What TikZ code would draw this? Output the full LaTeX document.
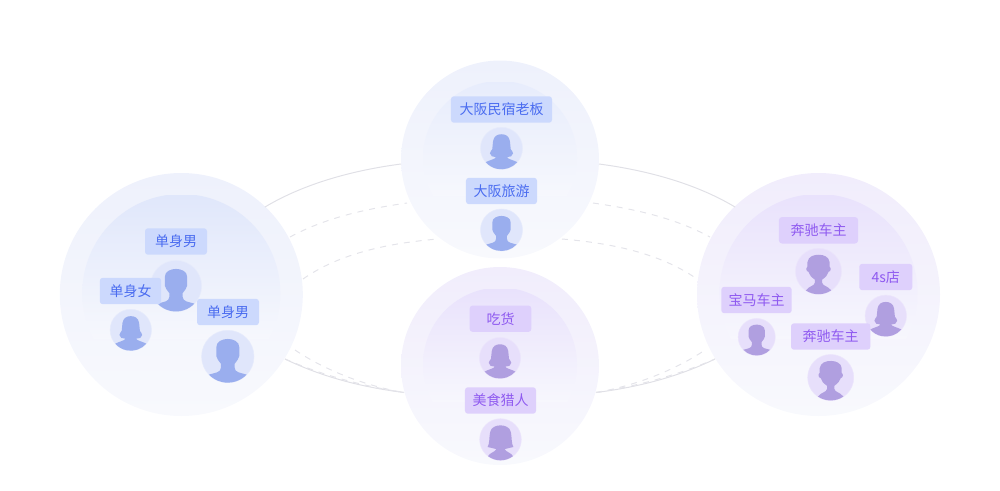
\documentclass[tikz,border=0pt]{standalone}
\usepackage{fontspec}
\setmainfont{Noto Sans CJK SC}
\usepackage{xcolor}
\usetikzlibrary{calc}
\definecolor{tagblue}{HTML}{CCD9FD}
\definecolor{txtblue}{HTML}{4A6CF0}
\definecolor{faceblue}{HTML}{E0E6FB}
\definecolor{headblue}{HTML}{9AAEEE}
\definecolor{tagpurple}{HTML}{DED0FC}
\definecolor{txtpurple}{HTML}{8F5AF0}
\definecolor{facepurple}{HTML}{E7DFFB}
\definecolor{headpurple}{HTML}{B09FE0}
\definecolor{linegrey}{HTML}{E0E0E6}
\definecolor{linedash}{HTML}{E4E4EA}
\definecolor{paleend}{HTML}{F8F9FD}
\definecolor{outerb}{HTML}{EEF1FC}
\definecolor{outerp}{HTML}{F1EDFC}
\definecolor{innerb}{HTML}{E0E7FB}
\definecolor{innerp}{HTML}{E9E2FC}
\tikzset{
  disc/.style={circle, inner sep=0pt, top color=#1, middle color=paleend!75!#1, bottom color=paleend},
  tagb/.style={fill=tagblue, text=txtblue, rounded corners=2.2, inner sep=0pt, minimum height=19.8, font=\fontsize{10.5}{10.5}\selectfont},
  tagp/.style={fill=tagpurple, text=txtpurple, rounded corners=2.2, inner sep=0pt, minimum height=19.8, font=\fontsize{10.5}{10.5}\selectfont},
  faceb/.style={circle, inner sep=0pt, fill=faceblue, draw=faceblue!80!white, line width=.4},
  facep/.style={circle, inner sep=0pt, fill=facepurple, draw=facepurple!80!white, line width=.4},
  solidline/.style={draw=linegrey, line width=.75},
  dashline/.style={draw=linedash, line width=.75, dash pattern=on 4.5 off 4.5},
  manA/.pic={
    \fill (-.72,.69) .. controls (-.5,.62) and (-.26,.62) .. (-.26,.42) -- (-.26,.28)
      .. controls (-.36,.15) and (-.42,.08) .. (-.44,-.02) -- (-.44,-.35)
      .. controls (-.44,-.58) and (-.2,-.67) .. (0,-.67)
      .. controls (.2,-.67) and (.44,-.58) .. (.44,-.35) -- (.44,-.02)
      .. controls (.42,.08) and (.36,.15) .. (.26,.28) -- (.26,.42)
      .. controls (.26,.62) and (.5,.62) .. (.72,.69) arc (43.8:136.2:1) -- cycle;
  },
  manB/.pic={
    \fill (-.55,.83) .. controls (-.4,.62) and (-.2,.66) .. (-.16,.5) -- (-.16,.36)
      .. controls (-.32,.25) and (-.4,.15) .. (-.44,.02) .. controls (-.54,.02) and (-.56,-.16) .. (-.48,-.2)
      -- (-.48,-.4) .. controls (-.44,-.66) and (-.2,-.72) .. (.02,-.72)
      .. controls (.24,-.72) and (.46,-.62) .. (.48,-.4) -- (.48,-.2)
      .. controls (.56,-.16) and (.54,.02) .. (.44,.02) .. controls (.4,.15) and (.32,.25) .. (.16,.36)
      -- (.16,.5) .. controls (.2,.66) and (.4,.62) .. (.55,.83) arc (56.5:123.5:1) -- cycle;
  },
  womanA/.pic={
    \fill (-.75,.66) .. controls (-.55,.55) and (-.3,.52) .. (-.26,.42) .. controls (-.4,.42) and (-.55,.38) .. (-.55,.24)
      .. controls (-.55,.14) and (-.47,.12) .. (-.44,.04) -- (-.4,-.35)
      .. controls (-.36,-.58) and (-.2,-.67) .. (0,-.67)
      .. controls (.2,-.67) and (.36,-.58) .. (.4,-.35) -- (.44,.04)
      .. controls (.47,.12) and (.55,.14) .. (.55,.24) .. controls (.55,.38) and (.4,.42) .. (.26,.42)
      .. controls (.3,.52) and (.55,.55) .. (.75,.66) arc (41.3:138.7:1) -- cycle;
  },
  womanB/.pic={
    \fill (-.6,.8) .. controls (-.5,.62) and (-.28,.62) .. (-.2,.46) -- (-.62,.36)
      .. controls (-.52,.2) and (-.55,-.1) .. (-.5,-.35) .. controls (-.46,-.6) and (-.2,-.68) .. (0,-.68)
      .. controls (.2,-.68) and (.46,-.6) .. (.5,-.35) .. controls (.55,-.1) and (.52,.2) .. (.62,.36)
      -- (.2,.46) .. controls (.28,.62) and (.5,.62) .. (.6,.8) arc (53.1:126.9:1) -- cycle;
  },
}
% one round group: outer disc, then the inner disc fading away downwards
\newcommand{\bubble}[6]{%
  \node[disc=#5, minimum size=#3*1.5] (#1) at (#2) {};
  \begin{scope}
    \clip (#2) ++(0,-1.5) circle (#4);
    \path[top color=#6, bottom color=paleend!82!#5] ($(#2)+(-#3,-#3+22)$) rectangle ($(#2)+(#3,#3*.36)$);
  \end{scope}
}
\begin{document}
\begin{tikzpicture}[x=.75pt, y=-.75pt]
\useasboundingbox (0,0) rectangle (1000,490);

\bubble{left}{181.3,294.5}{121.5}{99}{outerb}{innerb}
\bubble{top}{500,159.5}{99}{77}{outerb}{innerb!70!paleend}
\bubble{bottom}{500,366}{99}{77}{outerp}{innerp}
\bubble{right}{818.5,294.5}{121.5}{99}{outerp}{innerp}

% rings between the groups
\coordinate (a1) at (265,207);
\coordinate (a2) at (401,164);
\coordinate (a3) at (599,164);
\coordinate (a4) at (735,207);
\coordinate (b1) at (290,237);
\coordinate (b2) at (407,203);
\coordinate (b3) at (593,203);
\coordinate (b4) at (710,237);
\coordinate (c1) at (303,279);
\coordinate (c2) at (438,239);
\coordinate (c3) at (562,239);
\coordinate (c4) at (697,279);
\coordinate (d1) at (285,359);
\coordinate (d2) at (404,392.5);
\coordinate (d3) at (596,392.5);
\coordinate (d4) at (715,359);
\coordinate (e1) at (295,350);
\coordinate (e2) at (705,350);
\draw[solidline] (a1) .. controls (305,183) and (355,170) .. (a2);
\draw[solidline] (a3) .. controls (645,170) and (695,183) .. (a4);
\draw[dashline] (b1) .. controls (325,218) and (365,209) .. (b2);
\draw[dashline] (b3) .. controls (635,209) and (675,218) .. (b4);
\draw[dashline] (c1) .. controls (340,253) and (390,243) .. (c2);
\draw[dashline] (c3) .. controls (610,243) and (660,253) .. (c4);
\draw[solidline] (d1) .. controls (320,376) and (360,387) .. (d2);
\draw[solidline] (d3) .. controls (640,387) and (680,376) .. (d4);
\draw[dashline] (d1) .. controls (322,375) and (362,386) .. (d2);
\draw[dashline] (d3) .. controls (638,386) and (678,375) .. (d4);
\draw[dashline] (e1) .. controls (320,367) and (360,385) .. (d2);
\draw[dashline] (d3) .. controls (640,385) and (680,367) .. (e2);

% left group
\node[faceb, minimum size=38.3] (p1) at (176,286) {};
\node[faceb, minimum size=31] (p2) at (130.8,330) {};
\node[faceb, minimum size=39.3] (p3) at (227.8,356.5) {};
\pic[scale=25.5, fill=headblue] at (p1) {manA};
\pic[scale=20.7, fill=headblue] at (p2) {womanA};
\pic[scale=26.2, fill=headblue] at (p3) {manA};
\node[tagb, minimum width=46.5] (t1) at (176,241.5) {单身男};
\node[tagb, minimum width=46] (t2) at (130.5,291) {单身女};
\node[tagb, minimum width=46.5] (t3) at (228,312) {单身男};

% top group
\node[faceb, minimum size=31.5] (p4) at (501.5,148.3) {};
\node[faceb, minimum size=31.5] (p5) at (501.5,230) {};
\pic[scale=21, fill=headblue] at (p4) {womanA};
\pic[scale=21, fill=headblue] at (p5) {manA};
\node[tagb, minimum width=75.8] (t4) at (501.5,109.5) {大阪民宿老板};
\node[tagb, minimum width=53.3] (t5) at (501.5,191) {大阪旅游};

% bottom group
\node[facep, minimum size=30.8] (p6) at (500,358) {};
\node[facep, minimum size=31.2] (p7) at (500.5,439.5) {};
\pic[scale=20.5, fill=headpurple] at (p6) {womanA};
\pic[scale=20.8, fill=headpurple] at (p7) {womanB};
\node[tagp, minimum width=46.2] (t6) at (500.5,318.7) {吃货};
\node[tagp, minimum width=53.3] (t7) at (500.5,400.5) {美食猎人};

% right group
\node[facep, minimum size=34.5] (p8) at (818.5,271.3) {};
\node[facep, minimum size=31] (p9) at (885.8,315.8) {};
\node[facep, minimum size=27.8] (p10) at (756.7,337) {};
\node[facep, minimum size=34.5] (p11) at (830.7,377.5) {};
\pic[scale=23, fill=headpurple] at (p8) {manB};
\pic[scale=20.7, fill=headpurple] at (p9) {womanA};
\pic[scale=18.5, fill=headpurple] at (p10) {manA};
\pic[scale=23, fill=headpurple] at (p11) {manB};
\node[tagp, minimum width=59.3] (t8) at (818.5,230.3) {奔驰车主};
\node[tagp, minimum width=39.8] (t9) at (885.8,277) {4s店};
\node[tagp, minimum width=52.8] (t10) at (756.5,300) {宝马车主};
\node[tagp, minimum width=59.5] (t11) at (830.7,336.5) {奔驰车主};
\end{tikzpicture}
\end{document}
